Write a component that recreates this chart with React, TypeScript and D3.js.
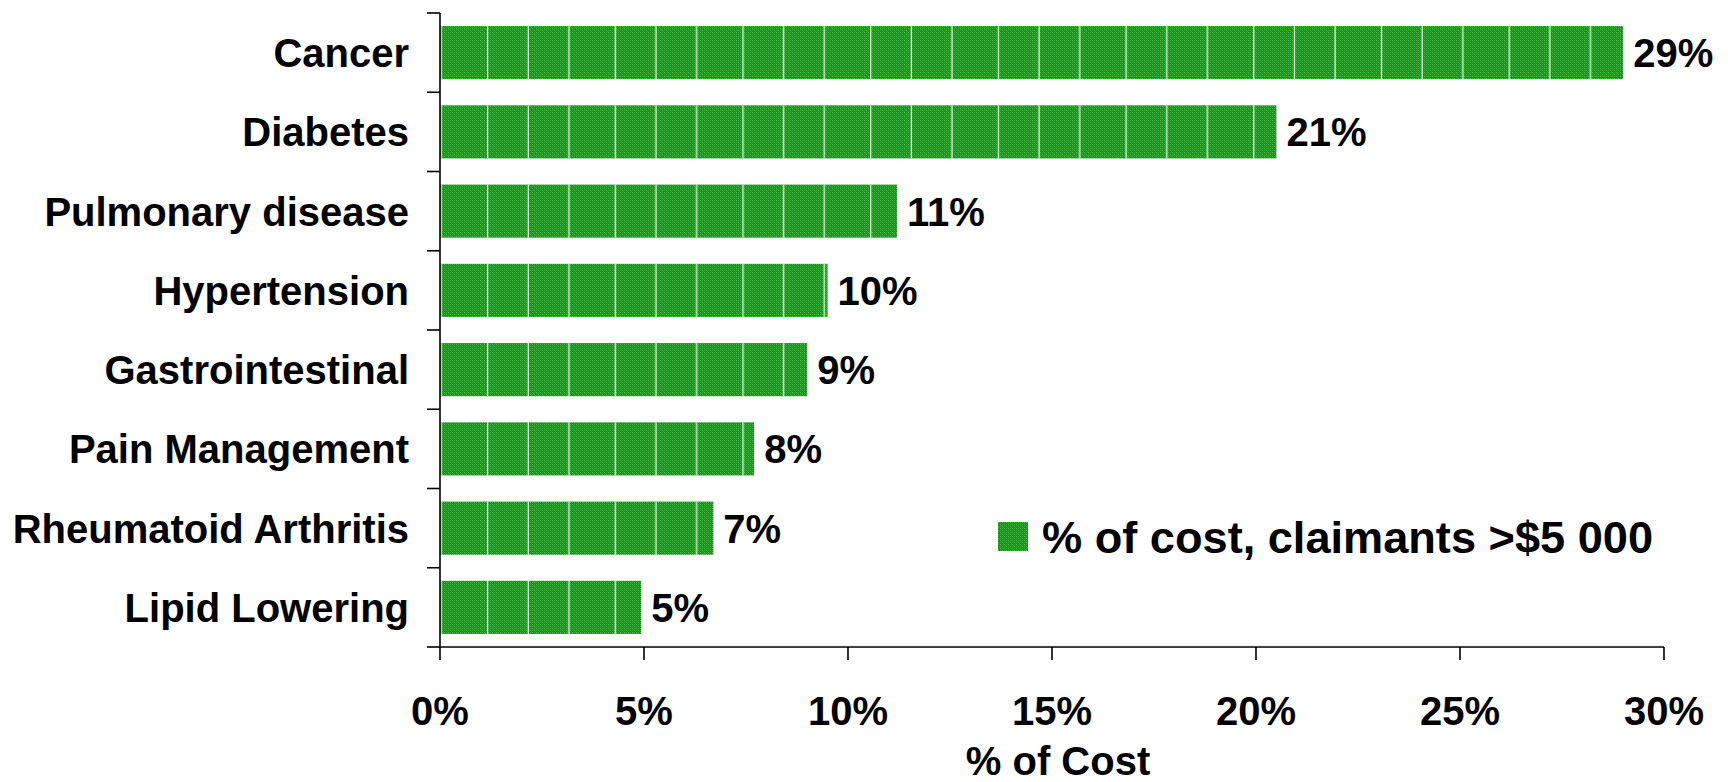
import React from "react";
import * as d3 from "d3";

const categories = [
  "Cancer",
  "Diabetes",
  "Pulmonary disease",
  "Hypertension",
  "Gastrointestinal",
  "Pain Management",
  "Rheumatoid Arthritis",
  "Lipid Lowering",
];
const values = [29, 20.5, 11.2, 9.5, 9.0, 7.7, 6.7, 4.93];
const valueLabels = ["29%", "21%", "11%", "10%", "9%", "8%", "7%", "5%"];
const xTicks = [0, 5, 10, 15, 20, 25, 30];
const legendLabel = "% of cost, claimants >$5 000";
const xTitle = "% of Cost";

const W = 1728;
const H = 782;
const FONT = "'Liberation Sans', Arial, Helvetica, sans-serif";

export default function App() {
  const x = d3.scaleLinear().domain([0, 30]).range([440, 1664]);
  const y = d3.scaleBand<string>().domain(categories).range([13, 647]).paddingInner(0.33).paddingOuter(0.165);
  const step = y.step();
  const bandEdges = d3.range(categories.length + 1).map((i) => 13 + i * step);

  return (
    <svg
      width={W}
      height={H}
      style={{ position: "absolute", left: 0, top: 0, background: "#fff" }}
      fontFamily={FONT}
    >
      <defs>
        <pattern id="tex" patternUnits="userSpaceOnUse" width={4} height={4}>
          <rect width={4} height={4} fill="#1f8e22" />
          <rect x={0} y={0} width={1} height={1} fill="#4cc24c" />
          <rect x={2} y={2} width={1} height={1} fill="#4cc24c" />
          <rect x={2} y={0} width={1} height={1} fill="#36aa36" />
          <rect x={0} y={2} width={1} height={1} fill="#36aa36" />
          <rect x={1} y={1} width={1} height={1} fill="#2a9e2c" />
          <rect x={3} y={3} width={1} height={1} fill="#2a9e2c" />
        </pattern>
        <pattern id="lines" patternUnits="userSpaceOnUse" x={487} y={0} width={127.7} height={10}>
          <rect x={0} y={0} width={1.2} height={10} fill="#e8ffe8" />
          <rect x={40.7} y={0} width={1.2} height={10} fill="#e8ffe8" />
          <rect x={81.3} y={0} width={1.2} height={10} fill="#e8ffe8" />
        </pattern>
      </defs>

      {/* bars */}
      {categories.map((c, i) => (
        <g key={c}>
          <rect x={x(0)} y={y(c)} width={x(values[i]) - x(0)} height={y.bandwidth()} fill="url(#tex)" />
          <rect x={x(0)} y={y(c)} width={x(values[i]) - x(0)} height={y.bandwidth()} fill="url(#lines)" />
        </g>
      ))}

      {/* y axis */}
      <line x1={x(0)} x2={x(0)} y1={13} y2={647} stroke="#000" strokeWidth={1.6} />
      {bandEdges.map((e, i) => (
        <line key={i} x1={427} x2={x(0)} y1={e} y2={e} stroke="#000" strokeWidth={1.6} />
      ))}

      {/* x axis */}
      <line x1={x(0)} x2={x(30)} y1={647} y2={647} stroke="#000" strokeWidth={1.6} />
      {xTicks.map((t) => (
        <g key={t}>
          <line x1={x(t)} x2={x(t)} y1={647} y2={660} stroke="#000" strokeWidth={1.6} />
          <text x={x(t)} y={725} textAnchor="middle" fontSize={40} fontWeight="bold">
            {`${t}%`}
          </text>
        </g>
      ))}
      <text x={1058} y={775} textAnchor="middle" fontSize={40} fontWeight="bold">
        {xTitle}
      </text>

      {/* category labels */}
      {categories.map((c) => (
        <text key={c} x={409} y={(y(c) as number) + y.bandwidth() / 2 + 14.5} textAnchor="end" fontSize={40} fontWeight="bold">
          {c}
        </text>
      ))}

      {/* value labels */}
      {categories.map((c, i) => (
        <text key={c} x={x(values[i]) + 10} y={(y(c) as number) + y.bandwidth() / 2 + 14.5} fontSize={40} fontWeight="bold">
          {valueLabels[i]}
        </text>
      ))}

      {/* legend */}
      <rect x={998} y={522} width={30} height={29} fill="url(#tex)" />
      <text x={1042} y={553} fontSize={45} fontWeight="bold" textLength={611} lengthAdjust="spacingAndGlyphs">
        {legendLabel}
      </text>
    </svg>
  );
}
